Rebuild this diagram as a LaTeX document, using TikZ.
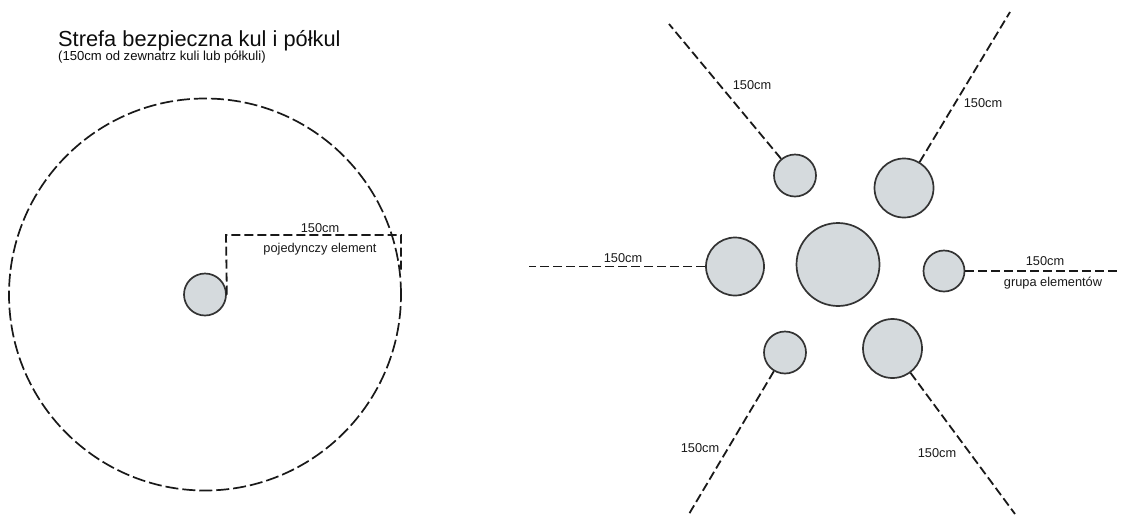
\documentclass[tikz,border=0pt]{standalone}
\usepackage{fontspec}
\setmainfont{Liberation Sans}
\begin{document}
\begin{tikzpicture}[x=1pt,y=-1pt,
  ball/.style={circle,draw=black!80,line width=1.7pt,fill=ballgray,inner sep=0pt},
  zoneline/.style={draw=black!90,line width=1.8pt,dash pattern=on 9pt off 4pt},
  lbl/.style={font=\fontsize{12.8}{14}\selectfont,text=black!90,inner sep=0pt}]
\definecolor{ballgray}{HTML}{D5DADD}
\useasboundingbox (0,0) rectangle (1131,515);
% title
\node[anchor=base west,inner sep=0pt,font=\fontsize{21.8}{24}\selectfont,text=black!95] (title) at (58,46) {Strefa bezpieczna kul i półkul};
\node[anchor=base west,inner sep=0pt,font=\fontsize{13.1}{15}\selectfont,text=black!95] (subtitle) at (58,60) {(150cm od zewnatrz kuli lub półkuli)};
% single element
\node[circle,draw=black!90,line width=1.7pt,dash pattern=on 13pt off 4pt,minimum size=392pt,inner sep=0pt] (zone) at (205,294.5) {};
\node[ball,minimum size=42pt] (single) at (205,294.5) {};
\coordinate (d1) at (226,235);
\coordinate (d2) at (401,235);
\coordinate (d3) at (401,273);
\draw[zoneline] (single.east) -- (d1) -- (d2) -- (d3);
\node[lbl] (l0) at (320,228) {150cm};
\node[lbl] (l0b) at (320,249.5) {pojedynczy element};
% group
\node[ball,minimum size=83pt] (c) at (838,264.5) {};
\node[ball,minimum size=42pt] (tl) at (795,175.5) {};
\node[ball,minimum size=59pt] (tr) at (904,188) {};
\node[ball,minimum size=58pt] (ml) at (735,266.5) {};
\node[ball,minimum size=41pt] (mr) at (944,271) {};
\node[ball,minimum size=42pt] (bl) at (785,352.5) {};
\node[ball,minimum size=59pt] (br) at (892.5,348.5) {};
\coordinate (etl) at (669,24);
\coordinate (etr) at (1010,12);
\coordinate (eml) at (529,266.5);
\coordinate (emr) at (1120,271);
\coordinate (ebl) at (689,514);
\coordinate (ebr) at (1015,514);
\draw[zoneline] (tl) -- (etl);
\draw[zoneline] (tr) -- (etr);
\draw[zoneline] (ml) -- (eml);
\draw[zoneline] (mr) -- (emr);
\draw[zoneline] (bl) -- (ebl);
\draw[zoneline] (br) -- (ebr);
\node[lbl] (l1) at (752,85) {150cm};
\node[lbl] (l2) at (983,103) {150cm};
\node[lbl] (l3) at (623,258) {150cm};
\node[lbl] (l4) at (1045,261) {150cm};
\node[lbl] (l4b) at (1053,283) {grupa elementów};
\node[lbl] (l5) at (700,448) {150cm};
\node[lbl] (l6) at (937,453) {150cm};
\end{tikzpicture}
\end{document}
